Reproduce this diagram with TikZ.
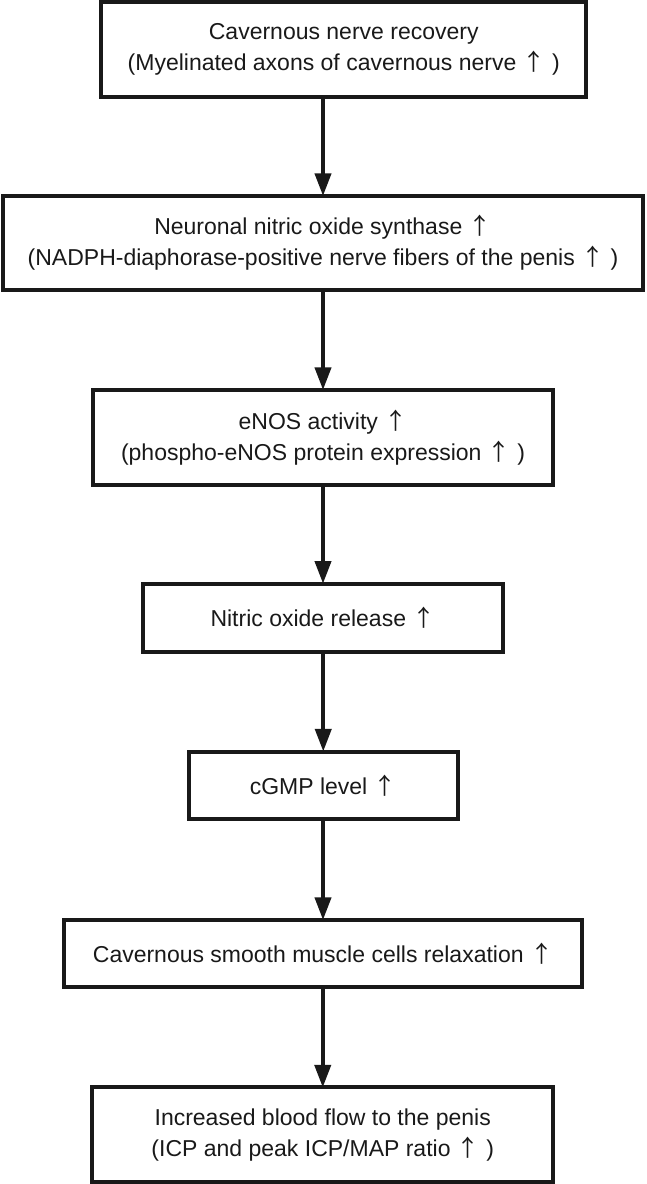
\documentclass[tikz,border=0pt]{standalone}
\usepackage{fontspec}
\setmainfont{Liberation Sans}
\newfontfamily\cjk{Noto Sans CJK SC}
\usetikzlibrary{arrows.meta}
\newcommand\myup{\makebox[1em]{\cjk ↑}}
\begin{document}
\begin{tikzpicture}[x=0.75pt,y=-0.75pt,
  box/.style={draw=black!90,line width=3pt,inner sep=0pt,outer sep=0pt,align=center,
    font=\fontsize{17.25}{23.5}\selectfont,text=black!90},
  arr/.style={draw=black!90,line width=3pt,-{Triangle[length=17pt,width=12pt]}}]
\useasboundingbox (0,0) rectangle (646,1184);
\node[box,minimum width=363.4pt,minimum height=71.6pt] (b1) at (343.75,49.25)
  {Cavernous nerve recovery\\(Myelinated axons of cavernous nerve~\myup~)};
\node[box,minimum width=480pt,minimum height=70.5pt] (b2) at (323,243)
  {Neuronal nitric oxide synthase~\myup\\(NADPH-diaphorase-positive nerve fibers of the penis~\myup~)};
\node[box,minimum width=345pt,minimum height=71.25pt] (b3) at (323,437.5)
  {eNOS activity~\myup\\(phospho-eNOS protein expression~\myup~)};
\node[box,minimum width=270pt,minimum height=51pt] (b4) at (323,617.7)
  {Nitric oxide release~\myup};
\node[box,minimum width=202.1pt,minimum height=50.6pt] (b5) at (323.25,785.25)
  {cGMP level~\myup};
\node[box,minimum width=388.5pt,minimum height=50.25pt] (b6) at (323,953.5)
  {Cavernous smooth muscle cells relaxation~\myup};
\node[box,minimum width=346.1pt,minimum height=70.9pt] (b7) at (322.75,1134.75)
  {Increased blood flow to the penis\\(ICP and peak ICP/MAP ratio~\myup~)};
\draw[arr] (b1.south -| b2.north) -- (b2.north);
\draw[arr] (b2.south -| b3.north) -- (b3.north);
\draw[arr] (b3.south -| b4.north) -- (b4.north);
\draw[arr] (b4.south -| b5.north) -- (b5.north);
\draw[arr] (b5.south -| b6.north) -- (b6.north);
\draw[arr] (b6.south -| b7.north) -- (b7.north);
\end{tikzpicture}
\end{document}
